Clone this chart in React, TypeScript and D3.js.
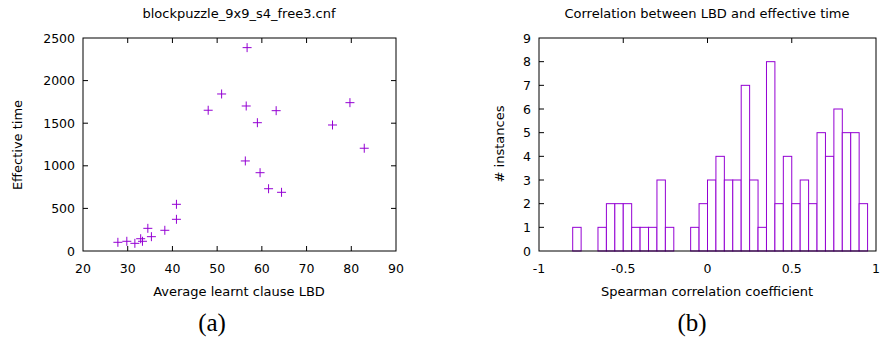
import React from 'react';
import * as d3 from 'd3';

// (a) scatter: average learnt clause LBD vs effective time
const lbd = [27.8, 29.8, 31.6, 32.9, 33.3, 34.5, 35.3, 38.3, 40.9, 40.9, 48.0, 51.0, 56.7, 56.5, 56.3, 59.0, 63.2, 59.6, 61.5, 64.4, 75.8, 79.7, 82.9];
const effTime = [102, 114, 90, 144, 114, 266, 168, 243, 372, 548, 1652, 1843, 2387, 1702, 1057, 1506, 1647, 919, 731, 689, 1479, 1741, 1206];
const scatterXTicks = [20, 30, 40, 50, 60, 70, 80, 90];
const scatterYTicks = [0, 500, 1000, 1500, 2000, 2500];

// (b) histogram of Spearman coefficients, bin width 0.05
const binLow = [-0.8, -0.65, -0.6, -0.55, -0.5, -0.45, -0.4, -0.35, -0.3, -0.25, -0.1, -0.05, 0, 0.05, 0.1, 0.15, 0.2, 0.25, 0.3, 0.35, 0.4, 0.45, 0.5, 0.55, 0.6, 0.65, 0.7, 0.75, 0.8, 0.85, 0.9];
const binCount = [1, 1, 2, 2, 2, 1, 1, 1, 3, 1, 1, 2, 3, 4, 3, 3, 7, 3, 1, 8, 2, 4, 2, 3, 2, 5, 4, 6, 5, 5, 2];
const binWidth = 0.05;
const histXTicks = [-1, -0.5, 0, 0.5, 1];
const histYTicks = [0, 1, 2, 3, 4, 5, 6, 7, 8, 9];

const purple = '#9400d3';
const font = '"DejaVu Sans", sans-serif';
const serif = '"Liberation Serif", serif';
const tickLen = 5;

const fmt = (v: number) => String(v);

export default function App() {
	const top = 38;
	const bottom = 251;

	const sx = d3.scaleLinear().domain([20, 90]).range([83, 396]);
	const sy = d3.scaleLinear().domain([0, 2500]).range([bottom, top]);

	const hx = d3.scaleLinear().domain([-1, 1]).range([539, 876]);
	const hy = d3.scaleLinear().domain([0, 9]).range([bottom, top]);

	return (
		<svg width={884} height={341} style={{ position: 'absolute', left: 0, top: 0, background: '#fff' }} fontFamily={font}>
			{/* ---------- (a) ---------- */}
			<text x={239} y={18} fontSize={13} textAnchor="middle">blockpuzzle_9x9_s4_free3.cnf</text>
			{scatterXTicks.map((t) => (
				<g key={'sx' + t}>
					{t > 20 && t < 90 && (
						<>
							<line x1={sx(t)} x2={sx(t)} y1={bottom} y2={bottom - tickLen} stroke="#000" />
							<line x1={sx(t)} x2={sx(t)} y1={top} y2={top + tickLen} stroke="#000" />
						</>
					)}
					<text x={sx(t)} y={273} fontSize={12.5} textAnchor="middle">{fmt(t)}</text>
				</g>
			))}
			{scatterYTicks.map((t) => (
				<g key={'sy' + t}>
					{t > 0 && t < 2500 && (
						<>
							<line x1={83} x2={83 + tickLen} y1={sy(t)} y2={sy(t)} stroke="#000" />
							<line x1={396} x2={396 - tickLen} y1={sy(t)} y2={sy(t)} stroke="#000" />
						</>
					)}
					<text x={75} y={sy(t) + 4.5} fontSize={12.5} textAnchor="end">{fmt(t)}</text>
				</g>
			))}
			<rect x={83} y={top} width={396 - 83} height={bottom - top} fill="none" stroke="#000" />
			{lbd.map((v, i) => {
				const cx = sx(v);
				const cy = sy(effTime[i]);
				return (
					<g key={'p' + i} stroke={purple} strokeWidth={1}>
						<line x1={cx - 4.5} x2={cx + 4.5} y1={cy} y2={cy} />
						<line x1={cx} x2={cx} y1={cy - 4.5} y2={cy + 4.5} />
					</g>
				);
			})}
			<text x={239} y={296} fontSize={13} textAnchor="middle">Average learnt clause LBD</text>
			<text transform="translate(22,145) rotate(-90)" fontSize={13} textAnchor="middle">Effective time</text>
			<text x={212} y={331} fontSize={25} textAnchor="middle" fontFamily={serif}>(a)</text>

			{/* ---------- (b) ---------- */}
			<text x={707} y={18} fontSize={13} textAnchor="middle">Correlation between LBD and effective time</text>
			{binLow.map((lo, i) => (
				<rect
					key={'b' + i}
					x={hx(lo)}
					y={hy(binCount[i])}
					width={hx(lo + binWidth) - hx(lo)}
					height={hy(0) - hy(binCount[i])}
					fill="#fff"
					stroke={purple}
					strokeWidth={1}
				/>
			))}
			{histXTicks.map((t) => (
				<g key={'hx' + t}>
					{t > -1 && t < 1 && <line x1={hx(t)} x2={hx(t)} y1={top} y2={top + tickLen} stroke="#000" />}
					<text x={hx(t)} y={273} fontSize={12.5} textAnchor="middle">{fmt(t)}</text>
				</g>
			))}
			{histYTicks.map((t) => (
				<g key={'hy' + t}>
					{t > 0 && t < 9 && <line x1={539} x2={539 + tickLen} y1={hy(t)} y2={hy(t)} stroke="#000" />}
					<text x={531} y={hy(t) + 4.5} fontSize={12.5} textAnchor="end">{fmt(t)}</text>
				</g>
			))}
			<rect x={539} y={top} width={876 - 539} height={bottom - top} fill="none" stroke="#000" />
			<text x={707} y={296} fontSize={13} textAnchor="middle">Spearman correlation coefficient</text>
			<text transform="translate(504,144) rotate(-90)" fontSize={13} textAnchor="middle"># instances</text>
			<text x={692} y={331} fontSize={25} textAnchor="middle" fontFamily={serif}>(b)</text>
		</svg>
	);
}
